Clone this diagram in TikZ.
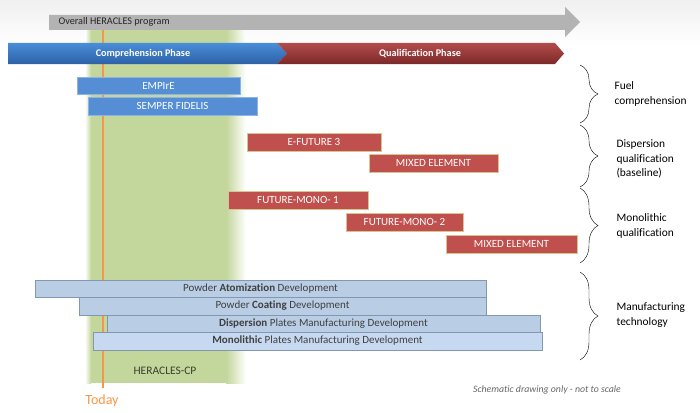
\documentclass[tikz,border=0pt]{standalone}
\usepackage{fontspec}
\setmainfont{Carlito}[Ligatures=NoCommon]
\usetikzlibrary{decorations.pathreplacing}
\definecolor{heragreen}{HTML}{C3D69B}
\definecolor{todayorange}{HTML}{F79646}
\definecolor{arrowgray}{HTML}{B3B3B3}
\definecolor{phasebluetop}{HTML}{4A8DDA}
\definecolor{phasebluebot}{HTML}{2C61A5}
\definecolor{phaseredtop}{HTML}{B34C4C}
\definecolor{phaseredbot}{HTML}{7C2828}
\definecolor{barblue}{HTML}{558ED5}
\definecolor{barblueline}{HTML}{8DB4E2}
\definecolor{barred}{HTML}{C0504D}
\definecolor{barredline}{HTML}{D9C38F}
\definecolor{mfgblue}{HTML}{B9CDE5}
\definecolor{mfglight}{HTML}{C6D9F1}
\definecolor{mfgline}{HTML}{8497B0}
\definecolor{mfgtext}{HTML}{404040}
\tikzset{
  bluebar/.style={draw=barblueline, fill=barblue},
  redbar/.style={draw=barredline, fill=barred},
  mfgbar/.style={draw=mfgline, fill=mfgblue},
  barlabel/.style={text=white, font=\fontsize{11}{13}\selectfont},
  mfglabel/.style={text=mfgtext, font=\fontsize{11}{13}\selectfont},
  grouplabel/.style={anchor=west, align=left, font=\fontsize{11.4}{14.5}\selectfont},
  groupbrace/.style={decorate, decoration={brace, amplitude=18pt}, thin}
}
\begin{document}
\begin{tikzpicture}[x=1pt, y=-1pt, font=\fontsize{10}{12}\selectfont]
    \useasboundingbox (0,0) rectangle (700,412);
    % faint grey top of the slide
    \shade [top color=black!6, bottom color=white] (0,0) rectangle (700,45);
    % green window of HERACLES-CP, fading out on the right
    \fill [heragreen] (91,30) rectangle (226,383);
    \shade [left color=heragreen, right color=white] (226,30) rectangle (246,383);
    \shade [left color=white, right color=heragreen] (85,30) rectangle (91,383);
    \node [text=black!70!heragreen, font=\fontsize{11.5}{14}\selectfont] (cp) at (165,371) {HERACLES-CP};
    % today line
    \draw [todayorange, line width=1.3pt] (103,30) -- (103,388);
    \node [text=todayorange, font=\fontsize{14}{16}\selectfont] (today) at (102,401) {Today};
    % overall program arrow
    \fill [arrowgray] (49,15) -- (565,15) -- (565,7) -- (580,22) -- (565,37) -- (565,30) -- (49,30) -- cycle;
    \node [anchor=west, text=black!85, font=\fontsize{10.2}{12}\selectfont] (overall) at (55,22) {Overall HERACLES program};
    % phases
    \shade [top color=phasebluetop, bottom color=phasebluebot]
        (8,43) -- (277,43) -- (287,53.5) -- (277,64) -- (8,64) -- cycle;
    \shade [top color=phaseredtop, bottom color=phaseredbot]
        (277,43) -- (555,43) -- (564,53.5) -- (555,64) -- (277,64) -- (287,53.5) -- cycle;
    \node [text=white, font=\bfseries\fontsize{10.2}{12}\selectfont] (compphase) at (143,53.5) {Comprehension Phase};
    \node [text=white, font=\bfseries\fontsize{10.2}{12}\selectfont] (qualphase) at (420,53.5) {Qualification Phase};
    % fuel comprehension
    \draw [bluebar] (77,77) rectangle (240,94) node[midway, barlabel] (empire) {EMPIrE};
    \draw [bluebar] (88,97) rectangle (257,115) node[midway, barlabel] (semper) {SEMPER FIDELIS};
    % dispersion qualification
    \draw [redbar] (247,133) rectangle (381,151) node[midway, barlabel] (efuture) {E-FUTURE 3};
    \draw [redbar] (369,154) rectangle (498,172) node[midway, barlabel] (mixedone) {MIXED ELEMENT};
    % monolithic qualification
    \draw [redbar] (228,191) rectangle (368,209) node[midway, barlabel] (monoone) {FUTURE-MONO- 1};
    \draw [redbar] (346,213) rectangle (463,231) node[midway, barlabel] (monotwo) {FUTURE-MONO- 2};
    \draw [redbar] (446,235) rectangle (577,253) node[midway, barlabel] (mixedtwo) {MIXED ELEMENT};
    % manufacturing technology
    \draw [mfgbar] (35,280) rectangle (486,297) node[midway, mfglabel] (atom) {Powder \textbf{Atomization} Development};
    \draw [mfgbar] (79,297) rectangle (486,315) node[midway, mfglabel] (coat) {Powder \textbf{Coating} Development};
    \draw [mfgbar] (107,315) rectangle (540,332) node[midway, mfglabel] (disp) {\textbf{Dispersion} Plates Manufacturing Development};
    \draw [mfgbar, fill=mfglight] (93,332) rectangle (542,350) node[midway, mfglabel] (mono) {\textbf{Monolithic} Plates Manufacturing Development};
    % braces and group labels
    \draw [groupbrace] (580,65) -- (580,123);
    \draw [groupbrace] (580,125) -- (580,187);
    \draw [groupbrace] (580,188) -- (580,263);
    \draw [groupbrace] (580,272) -- (580,360);
    \node [grouplabel] (fuel) at (611,94) {Fuel\\comprehension};
    \node [grouplabel] (dispq) at (613,159) {Dispersion\\qualification\\(baseline)};
    \node [grouplabel] (monoq) at (613,226) {Monolithic\\qualification};
    \node [grouplabel] (manuf) at (613,315) {Manufacturing\\technology};
    \node [text=black!60, font=\itshape\fontsize{9.8}{12}\selectfont] (note) at (547,390) {Schematic drawing only - not to scale};
\end{tikzpicture}
\end{document}
